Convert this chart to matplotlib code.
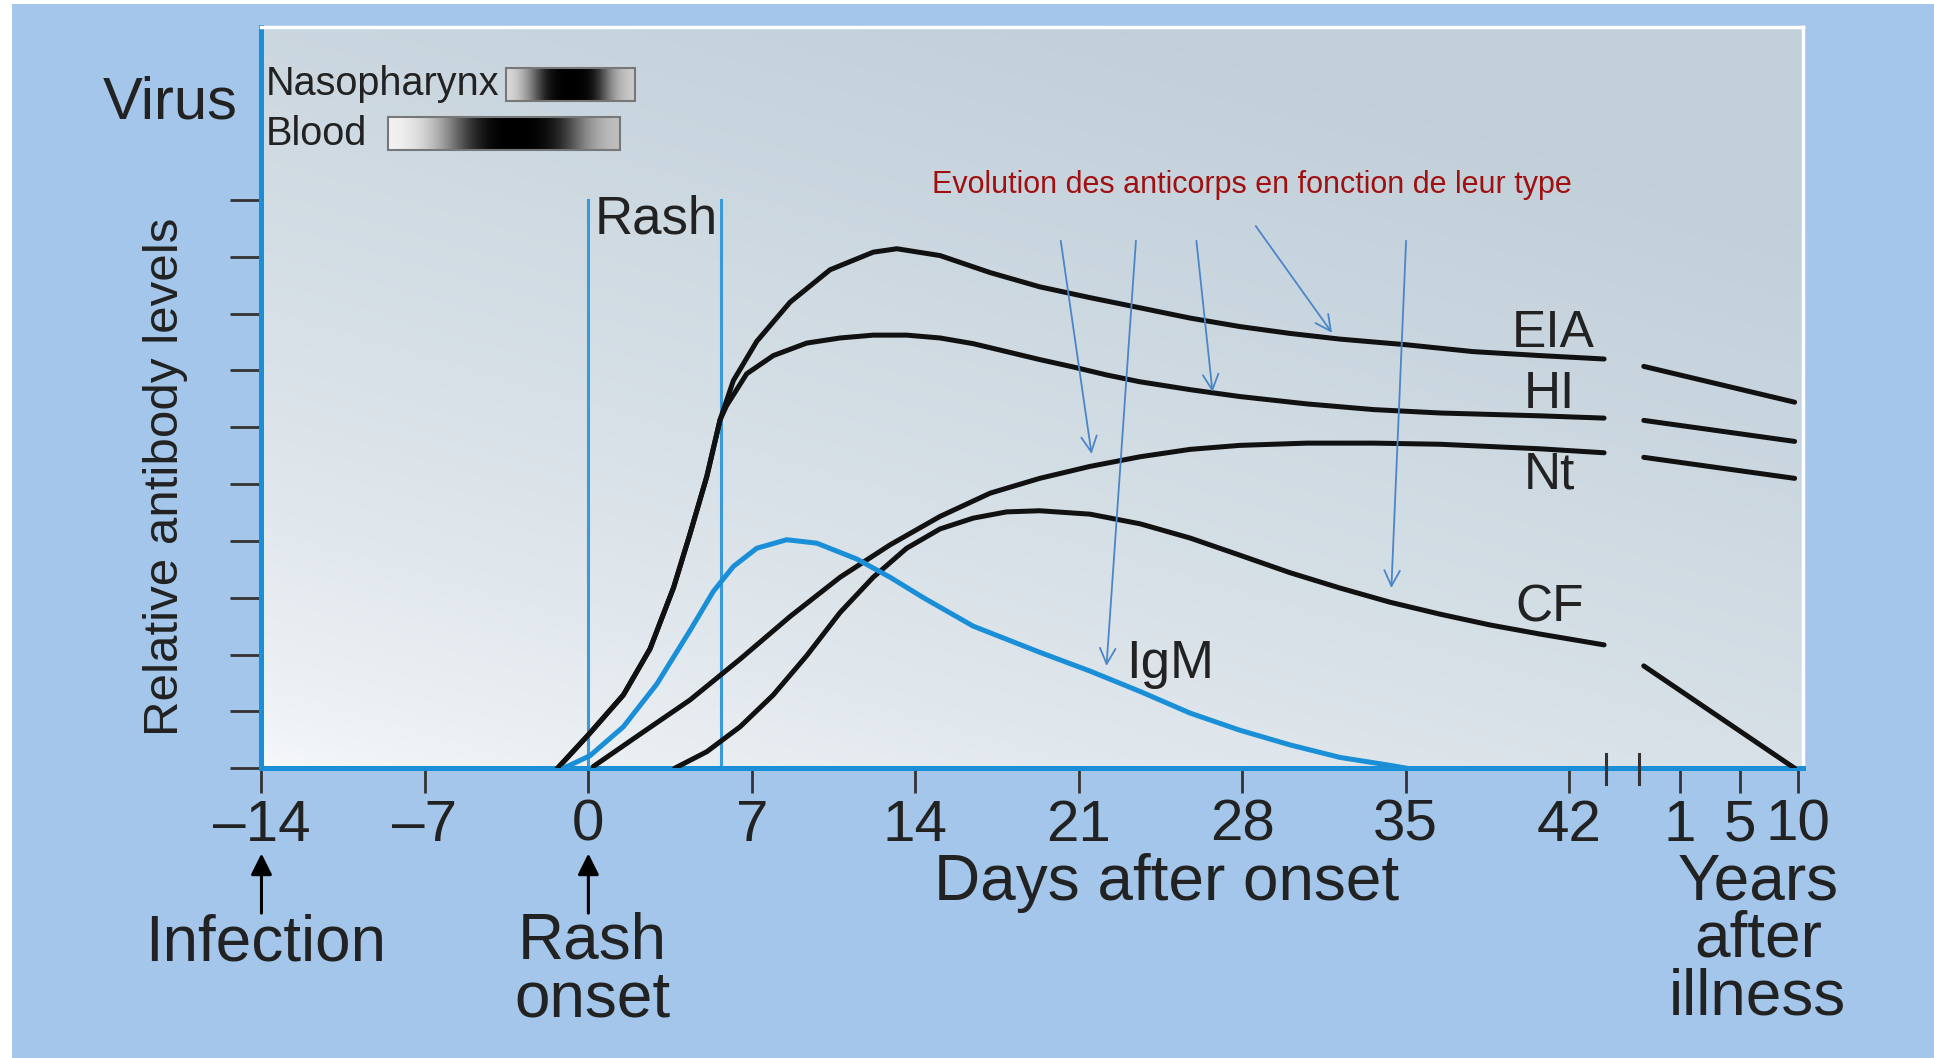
import numpy as np
import matplotlib
matplotlib.use("Agg")
from matplotlib import pyplot as plt
from matplotlib import font_manager
from matplotlib.patches import Rectangle

# ---- data (x = days after onset, y = relative level) ----
eia_x = [-1.32, 0.05, 1.5, 2.64, 3.65, 4.35, 5.07, 5.64, 6.21, 7.21, 8.64, 10.35,
         12.2, 13.21, 15.06, 17.21, 19.33, 21.48, 23.63, 25.77, 27.91, 30.05,
         32.19, 35.05, 37.89, 40.76, 43.5]
eia_y = [0.0, 0.61, 1.29, 2.1, 3.18, 4.12, 5.13, 6.13, 6.82, 7.51, 8.2, 8.77,
         9.08, 9.14, 9.02, 8.72, 8.47, 8.28, 8.1, 7.92, 7.77, 7.65,
         7.55, 7.45, 7.33, 7.26, 7.2]
hi_x = [-1.32, 0.05, 1.5, 2.64, 3.65, 4.35, 5.07, 5.64, 5.92, 6.78, 7.92, 9.35,
        10.78, 12.2, 13.63, 15.06, 16.48, 17.91, 19.33, 20.76, 22.19, 23.61,
        25.78, 27.89, 30.77, 33.62, 36.48, 40.76, 43.5]
hi_y = [0.0, 0.61, 1.29, 2.1, 3.18, 4.12, 5.13, 6.13, 6.38, 6.94, 7.26, 7.48,
        7.57, 7.62, 7.62, 7.57, 7.47, 7.33, 7.19, 7.06, 6.92, 6.8,
        6.66, 6.54, 6.41, 6.31, 6.25, 6.2, 6.16]
nt_x = [0.21, 2.22, 4.35, 6.5, 8.64, 10.78, 12.92, 15.06, 17.21, 19.33, 21.48,
        23.63, 25.77, 27.89, 30.77, 33.62, 36.48, 40.76, 43.5]
nt_y = [0.03, 0.6, 1.2, 1.92, 2.67, 3.36, 3.93, 4.43, 4.84, 5.1, 5.31,
        5.48, 5.61, 5.68, 5.72, 5.72, 5.7, 5.62, 5.55]
cf_x = [3.7, 5.07, 6.5, 7.92, 9.35, 10.78, 12.2, 13.63, 15.06, 16.48, 17.91,
        19.33, 21.48, 23.63, 25.77, 27.89, 30.05, 32.19, 34.34, 36.48, 38.62,
        40.76, 43.5]
cf_y = [0.0, 0.29, 0.73, 1.29, 1.98, 2.74, 3.36, 3.87, 4.21, 4.4, 4.51,
        4.53, 4.47, 4.3, 4.05, 3.75, 3.44, 3.17, 2.92, 2.71, 2.52,
        2.36, 2.17]
igm_x = [-1.07, 0.07, 1.5, 2.93, 4.35, 5.35, 6.21, 7.21, 8.49, 9.78, 11.5, 12.92,
         14.35, 16.48, 19.33, 21.48, 23.63, 25.77, 27.89, 30.05, 32.19, 34.34, 35.05]
igm_y = [0.0, 0.22, 0.73, 1.48, 2.42, 3.11, 3.55, 3.87, 4.02, 3.96, 3.68, 3.36,
         3.0, 2.5, 2.04, 1.71, 1.35, 0.97, 0.67, 0.41, 0.19, 0.05, 0.0]

# years-after-illness segments (x on the compressed right part of the axis)
years_x = [45.2, 51.66]
eia_years = [7.07, 6.44]
hi_years = [6.12, 5.75]
nt_years = [5.47, 5.10]
cf_years = [1.80, 0.0]

day_ticks = [-14, -7, 0, 7, 14, 21, 28, 35, 42]
day_labels = ["\u201314", "\u20137", "0", "7", "14", "21", "28", "35", "42"]
year_ticks = [46.75, 49.3, 51.8]
year_labels = ["1", "5", "10"]
break_marks = [43.6, 45.0]
rash_days = [0, 5.7]

# virus shedding shading (darkness 0..1 across each bar)
naso_span = [-3.54, 2.0]
naso_shade = [0.15, 0.45, 0.95, 1.0, 1.0, 0.95, 0.4, 0.2]
blood_span = [-8.56, 1.37]
blood_shade = [0.05, 0.15, 0.4, 0.8, 1.0, 1.0, 1.0, 0.85, 0.45, 0.25]

# pointer arrows from the red title: (start x, start y, end x, end y)
pointers = [(20.23, 9.28, 21.55, 5.53),
            (23.45, 9.28, 22.19, 1.80),
            (26.04, 9.28, 26.73, 6.62),
            (28.58, 9.54, 31.85, 7.66),
            (35.02, 9.28, 34.39, 3.17)]

names = {f.name for f in font_manager.fontManager.ttflist}
main_font = "Liberation Sans" if "Liberation Sans" in names else "DejaVu Sans"
narrow_font = "Liberation Sans Narrow" if "Liberation Sans Narrow" in names else main_font
title_size = 26 if narrow_font != main_font else 22
plt.rcParams["font.family"] = [main_font, "DejaVu Sans"]

BLUE = "#1a8fd8"
BG = "#a3c6ea"
INK = "#222222"

fig = plt.figure(figsize=(19.34, 10.58), dpi=100)
fig.patch.set_facecolor("white")
fig.patches.append(Rectangle((0.006, 0.0), 1.0, 0.996, transform=fig.transFigure,
                             facecolor=BG, edgecolor="none", zorder=-10))

ax = fig.add_axes([0.1352, 0.2739, 0.7972, 0.7005])
x_left, x_right = -14, 52.03
y_bot, y_top = 0, 13.04
ax.set_xlim(x_left, x_right)
ax.set_ylim(y_bot, y_top)

# background gradient of the plotting area
gx, gy = np.meshgrid(np.linspace(0, 1, 300), np.linspace(0, 1, 200))
t = np.clip(0.45 * gx + 0.75 * gy, 0, 1) ** 0.65
c0 = np.array([0.97, 0.977, 0.983])
c1 = np.array([0.76, 0.815, 0.855])
grad = c0[None, None, :] * (1 - t[..., None]) + c1[None, None, :] * t[..., None]
ax.imshow(grad, extent=[x_left, x_right, y_bot, y_top], origin="lower",
          aspect="auto", zorder=0, interpolation="bilinear")

# spines
for side in ["left", "bottom"]:
    ax.spines[side].set_color(BLUE)
    ax.spines[side].set_linewidth(3.6)
for side in ["top", "right"]:
    ax.spines[side].set_color("white")
    ax.spines[side].set_linewidth(2.5)

ax.set_yticks(range(0, 11))
ax.set_yticklabels([])
ax.tick_params(axis="y", direction="out", length=22, width=2, color="#333333")
ax.set_xticks(day_ticks + year_ticks)
ax.set_xticklabels(day_labels + year_labels)
ax.tick_params(axis="x", direction="out", length=18, width=2, color="#333333",
               labelsize=42, labelcolor=INK, pad=4)

# rash period
for d in rash_days:
    ax.plot([d, d], [0, 10], color="#3a9ad9", lw=2.2, zorder=2)
ax.text(0.25, 9.65, "Rash", fontsize=38, color=INK, va="center", ha="left", zorder=5)

# antibody curves
style = dict(lw=3.6, solid_capstyle="round", solid_joinstyle="round", zorder=3)
ax.plot(eia_x, eia_y, color="#111111", **style)
ax.plot(hi_x, hi_y, color="#111111", **style)
ax.plot(nt_x, nt_y, color="#111111", **style)
ax.plot(cf_x, cf_y, color="#111111", **style)
ax.plot(igm_x, igm_y, color=BLUE, **style)
for ys in [eia_years, hi_years, nt_years, cf_years]:
    ax.plot(years_x, ys, color="#111111", **style)

ax.text(41.3, 7.64, "EIA", fontsize=37, color=INK, ha="center", va="center", zorder=5)
ax.text(41.15, 6.57, "HI", fontsize=37, color=INK, ha="center", va="center", zorder=5)
ax.text(41.15, 5.16, "Nt", fontsize=37, color=INK, ha="center", va="center", zorder=5)
ax.text(41.15, 2.82, "CF", fontsize=37, color=INK, ha="center", va="center", zorder=5)
ax.text(24.9, 1.84, "IgM", fontsize=38, color=INK, ha="center", va="center", zorder=5)

# axis break marks
for b in break_marks:
    ax.plot([b, b], [-0.28, 0.25], color="#333333", lw=2.2, clip_on=False, zorder=6)

# virus bars
for span, shade, y0, y1 in [(naso_span, naso_shade, 11.74, 12.32),
                            (blood_span, blood_shade, 10.87, 11.45)]:
    img = 1 - np.array(shade)[None, :]
    ax.imshow(img, extent=[span[0], span[1], y0, y1], cmap="gray", vmin=0, vmax=1,
              aspect="auto", interpolation="bicubic", zorder=4)
    ax.add_patch(Rectangle((span[0], y0), span[1] - span[0], y1 - y0, fill=False,
                           edgecolor="#777777", lw=1.5, zorder=5))
ax.text(-13.8, 12.03, "Nasopharynx", fontsize=28.5, color=INK, ha="left", va="center", zorder=5)
ax.text(-13.8, 11.16, "Blood", fontsize=28.5, color=INK, ha="left", va="center", zorder=5)
ax.text(-17.9, 11.71, "Virus", fontsize=43, color=INK, ha="center", va="center", clip_on=False)

# red title and pointer arrows
ax.text(28.4, 10.26, "Evolution des anticorps en fonction de leur type",
        fontsize=title_size, color="#a01010", ha="center", va="center",
        family=[narrow_font, "DejaVu Sans"], zorder=5)
for x0, y0, x1, y1 in pointers:
    ax.annotate("", xy=(x1, y1), xytext=(x0, y0),
                arrowprops=dict(arrowstyle="->", color="#4a86c8", lw=1.3, mutation_scale=28,
                                shrinkA=0, shrinkB=0), zorder=6)

# y label
ax.text(-18.1, 5.12, "Relative antibody levels", fontsize=35.5, color=INK, rotation=90,
        ha="center", va="center", clip_on=False)

# texts below the axis
for d in [-14, 0]:
    ax.annotate("", xy=(d, -1.5), xytext=(d, -2.55), annotation_clip=False,
                arrowprops=dict(arrowstyle="-|>", color="black", lw=2.2, mutation_scale=32,
                                shrinkA=0, shrinkB=0))
big = 46
ax.text(-13.84, -3.08, "Infection", fontsize=big, color=INK, ha="center", va="center",
        clip_on=False)
ax.text(0.16, -3.56, "Rash\nonset", fontsize=big, color=INK, ha="center", va="center",
        linespacing=0.95, clip_on=False)
ax.text(24.78, -2.02, "Days after onset", fontsize=big, color=INK, ha="center", va="center",
        clip_on=False)
ax.text(50.08, -3.02, "Years\nafter\nillness", fontsize=big, color=INK, ha="center",
        va="center", linespacing=0.95, clip_on=False)

fig.savefig("out.png", dpi=100, facecolor=fig.get_facecolor())
